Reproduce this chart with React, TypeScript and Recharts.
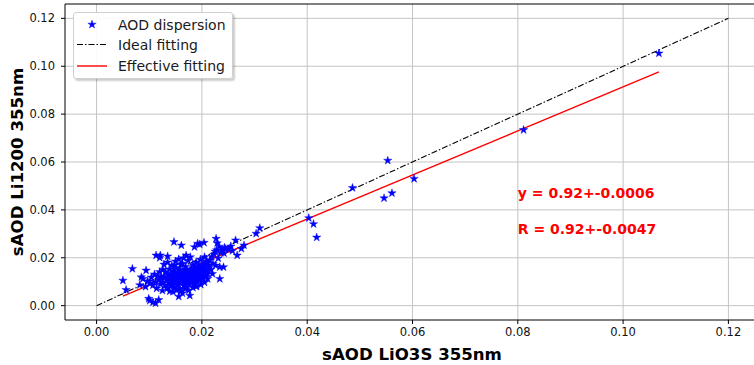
import React from 'react';
import { ScatterChart, Scatter, XAxis, YAxis, CartesianGrid, ReferenceLine, ReferenceDot } from 'recharts';

// sAOD pairs: [LiO3S 355nm, Li1200 355nm]
const dispersion: [number, number][] = [
  // high values
  [0.1068, 0.1054], [0.0811, 0.0734], [0.0603, 0.053], [0.0553, 0.0606], [0.0561, 0.047],
  [0.0546, 0.0449], [0.0486, 0.0492], [0.0403, 0.0366], [0.0412, 0.0341], [0.0418, 0.0285],
  [0.031, 0.0324], [0.0303, 0.0301], [0.028, 0.0252], [0.0275, 0.0238], [0.0267, 0.021],
  [0.0264, 0.0273], [0.0243, 0.0242], [0.0229, 0.0261], [0.0227, 0.028], [0.0204, 0.0263],
  [0.0192, 0.0259], [0.0196, 0.0256], [0.0186, 0.0245], [0.0161, 0.0252], [0.0147, 0.0266],
  [0.012, 0.02], [0.0113, 0.021], [0.0121, 0.021], [0.0135, 0.0206], [0.017, 0.021], [0.0205, 0.0203],
  [0.0068, 0.0154], [0.005, 0.0105], [0.0056, 0.0066], [0.0088, 0.0112], [0.0085, 0.0119], [0.0094, 0.0147],
  [0.0099, 0.0029], [0.0112, 0.001], [0.0118, 0.0024], [0.0101, 0.0021], [0.0107, 0.0014],
  [0.0156, 0.0038], [0.0177, 0.0042], [0.017, 0.0077], [0.0189, 0.008],
  [0.0226, 0.0168], [0.0234, 0.0161], [0.022, 0.0133], [0.0211, 0.0112], [0.0234, 0.0112],
  [0.0196, 0.0105], [0.0241, 0.0161],
  // main cluster
  [0.0125, 0.0098], [0.0128, 0.0121], [0.013, 0.0085], [0.0131, 0.014], [0.0133, 0.0108],
  [0.0134, 0.0072], [0.0136, 0.0128], [0.0137, 0.0095], [0.0138, 0.0152], [0.0139, 0.0113],
  [0.014, 0.0081], [0.0141, 0.0134], [0.0142, 0.0102], [0.0143, 0.0167], [0.0144, 0.009],
  [0.0145, 0.012], [0.0146, 0.0145], [0.0147, 0.0076], [0.0148, 0.0108], [0.0149, 0.013],
  [0.015, 0.0098], [0.0151, 0.0158], [0.0152, 0.0115], [0.0153, 0.0085], [0.0154, 0.0139],
  [0.0155, 0.0104], [0.0156, 0.0124], [0.0157, 0.007], [0.0158, 0.015], [0.0159, 0.0111],
  [0.016, 0.0093], [0.0161, 0.0135], [0.0162, 0.0118], [0.0163, 0.0176], [0.0164, 0.01],
  [0.0165, 0.0128], [0.0166, 0.0084], [0.0167, 0.0145], [0.0168, 0.0109], [0.0169, 0.0162],
  [0.017, 0.0122], [0.0171, 0.0095], [0.0172, 0.0138], [0.0173, 0.0113], [0.0174, 0.0188],
  [0.0175, 0.0104], [0.0176, 0.0131], [0.0177, 0.0089], [0.0178, 0.0152], [0.0179, 0.0119],
  [0.018, 0.0098], [0.0181, 0.0142], [0.0182, 0.0126], [0.0183, 0.017], [0.0184, 0.0108],
  [0.0185, 0.0134], [0.0186, 0.0093], [0.0187, 0.0158], [0.0188, 0.0116], [0.0189, 0.0181],
  [0.019, 0.0127], [0.0191, 0.0101], [0.0192, 0.0146], [0.0193, 0.012], [0.0194, 0.0165],
  [0.0195, 0.0111], [0.0196, 0.0136], [0.0197, 0.0192], [0.0198, 0.0123], [0.0199, 0.0152],
  [0.02, 0.0114], [0.0201, 0.014], [0.0202, 0.0175], [0.0203, 0.0128], [0.0205, 0.0157],
  [0.0206, 0.0119], [0.0208, 0.0144], [0.0209, 0.0186], [0.0211, 0.0133], [0.0213, 0.0168],
  [0.0215, 0.019], [0.0217, 0.015], [0.0219, 0.0205], [0.0221, 0.0176], [0.0223, 0.0214],
  [0.0225, 0.0226], [0.0228, 0.0232], [0.0231, 0.0198], [0.0233, 0.0247], [0.0236, 0.0221],
  [0.0238, 0.023], [0.0242, 0.0219], [0.0245, 0.0236], [0.025, 0.0235], [0.0255, 0.0248], [0.0258, 0.0229],
  // dense core
  [0.0146, 0.0112], [0.0151, 0.0127], [0.0155, 0.0091], [0.0158, 0.0117], [0.0162, 0.0106],
  [0.0164, 0.0139], [0.0167, 0.0124], [0.0169, 0.0098], [0.0171, 0.0151], [0.0174, 0.0126],
  [0.0176, 0.0112], [0.0179, 0.0136], [0.0181, 0.0103], [0.0183, 0.0121], [0.0186, 0.0147],
  [0.0188, 0.0131], [0.0191, 0.0117], [0.0193, 0.0139], [0.0196, 0.0161], [0.0199, 0.0129],
  [0.0202, 0.0148], [0.0204, 0.0166], [0.0207, 0.0137], [0.021, 0.0179], [0.0214, 0.0158],
  // lower left arm
  [0.0082, 0.0086], [0.0093, 0.0079], [0.0097, 0.0102], [0.0101, 0.0094], [0.0104, 0.0118],
  [0.0107, 0.0085], [0.011, 0.0131], [0.0112, 0.0099], [0.0114, 0.0072], [0.0116, 0.0124],
  [0.0118, 0.0108], [0.012, 0.0141], [0.0121, 0.009], [0.0123, 0.0117], [0.0125, 0.0063], [0.0126, 0.015],
  // under the fit line
  [0.0145, 0.0058], [0.0152, 0.0065], [0.016, 0.0061], [0.0168, 0.007], [0.0175, 0.0064],
  [0.0183, 0.0075], [0.019, 0.0082], [0.0163, 0.0052], [0.0139, 0.006], [0.0198, 0.0088], [0.0205, 0.0097],
  // upper part of the cluster
  [0.0128, 0.0172], [0.0135, 0.0181], [0.015, 0.0185], [0.0156, 0.0194], [0.0165, 0.0199],
  [0.0178, 0.0203], [0.016, 0.0172], [0.0148, 0.0168],
];

const xTicks = [0, 0.02, 0.04, 0.06, 0.08, 0.1, 0.12];
const yTicks = [0, 0.02, 0.04, 0.06, 0.08, 0.1, 0.12];
const idealEnd = 0.12;

// linear fit and correlation
const fitSlope = 0.92;
const fitIntercept = -0.0006;
const corrR = 0.92;
const corrErr = -0.0047;

const AXIS_MIN = -0.006;
const AXIS_MAX = 0.126;
const FONT = "'DejaVu Sans', sans-serif";

const points = dispersion.map(([x, y]) => ({ x, y }));
const fitX0 = Math.min(...dispersion.map((d) => d[0]));
const fitX1 = Math.max(...dispersion.map((d) => d[0]));

function starPoints(cx: number, cy: number, R: number) {
  const r = R * 0.382;
  const pts: string[] = [];
  for (let i = 0; i < 10; i++) {
    const a = (-90 + i * 36) * (Math.PI / 180);
    const rad = i % 2 === 0 ? R : r;
    pts.push(`${(cx + rad * Math.cos(a)).toFixed(2)},${(cy + rad * Math.sin(a)).toFixed(2)}`);
  }
  return pts.join(' ');
}

const StarMarker = (props: any) => {
  const { cx, cy } = props;
  if (cx == null || cy == null) return <g />;
  return <polygon points={starPoints(cx, cy, 4.4)} fill="#0000ff" stroke="#0000ff" strokeWidth={0.4} />;
};

const AnnotationText = (text: string) => (props: any) => (
  <text x={props.cx} y={props.cy} fill="#ff0000" fontFamily={FONT} fontWeight="bold" fontSize={14}>
    {text}
  </text>
);

export default function App() {
  return (
    <div style={{ position: 'absolute', left: 0, top: 0, width: 754, height: 365, overflow: 'hidden', background: '#fff' }}>
      <ScatterChart width={780} height={365} margin={{ top: 4, right: 20, bottom: 0, left: 0 }}>
        <CartesianGrid stroke="#c4c4c4" strokeWidth={1} horizontalValues={yTicks} verticalValues={xTicks} />
        <XAxis
          type="number"
          dataKey="x"
          domain={[AXIS_MIN, AXIS_MAX]}
          ticks={xTicks}
          allowDataOverflow
          height={45}
          tickFormatter={(v: number) => v.toFixed(2)}
          tick={{ fontSize: 11.5, fill: '#111', fontFamily: FONT }}
          tickSize={4}
          tickMargin={4}
          tickLine={{ stroke: '#000' }}
          axisLine={{ stroke: '#000' }}
        />
        <YAxis
          type="number"
          dataKey="y"
          domain={[AXIS_MIN, AXIS_MAX]}
          ticks={yTicks}
          allowDataOverflow
          width={65}
          tickFormatter={(v: number) => v.toFixed(2)}
          tick={{ fontSize: 11.5, fill: '#111', fontFamily: FONT }}
          tickSize={4}
          tickMargin={6}
          tickLine={{ stroke: '#000' }}
          axisLine={{ stroke: '#000' }}
        />
        <ReferenceLine y={AXIS_MAX} stroke="#000" strokeWidth={1} />
        <Scatter data={points} shape={StarMarker} isAnimationActive={false} />
        <ReferenceLine
          segment={[{ x: 0, y: 0 }, { x: idealEnd, y: idealEnd }]}
          stroke="#000"
          strokeWidth={1.1}
          strokeDasharray="6 2 1.5 2"
        />
        <ReferenceLine
          segment={[
            { x: fitX0, y: fitSlope * fitX0 + fitIntercept },
            { x: fitX1, y: fitSlope * fitX1 + fitIntercept },
          ]}
          stroke="#ff0000"
          strokeWidth={1.4}
        />
        <ReferenceDot x={0.08} y={0.045} shape={AnnotationText(`y = ${fitSlope.toFixed(2)}+${fitIntercept}`)} />
        <ReferenceDot x={0.08} y={0.03} shape={AnnotationText(`R = ${corrR.toFixed(2)}+${corrErr}`)} />
      </ScatterChart>

      {/* axis titles */}
      <svg width={754} height={365} style={{ position: 'absolute', left: 0, top: 0, pointerEvents: 'none' }}>
        <text x={412} y={360} textAnchor="middle" fontFamily={FONT} fontWeight="bold" fontSize={16.6} fill="#000">
          sAOD LiO3S 355nm
        </text>
        <text
          x={23}
          y={162}
          textAnchor="middle"
          transform="rotate(-90 23 162)"
          fontFamily={FONT}
          fontWeight="bold"
          fontSize={16.6}
          fill="#000"
        >
          sAOD Li1200 355nm
        </text>
      </svg>

      {/* legend */}
      <div
        style={{
          position: 'absolute',
          left: 73,
          top: 12,
          width: 160,
          height: 67,
          background: 'rgba(255,255,255,0.9)',
          border: '1px solid #d0d0d0',
          borderRadius: 3,
          boxShadow: '2px 2px 2px rgba(0,0,0,0.2)',
          boxSizing: 'border-box',
        }}
      >
        <svg width={160} height={67} style={{ position: 'absolute', left: -1, top: -1 }}>
          <polygon points={starPoints(19, 12.5, 4.4)} fill="#0000ff" stroke="#0000ff" strokeWidth={0.4} />
          <line x1={4} x2={34} y1={32.5} y2={32.5} stroke="#000" strokeWidth={1.1} strokeDasharray="6 2 1.5 2" />
          <line x1={4} x2={34} y1={54} y2={54} stroke="#ff0000" strokeWidth={1.4} />
          <g fontFamily={FONT} fontSize={14} fill="#1a1a1a">
            <text x={45} y={17.5}>AOD dispersion</text>
            <text x={45} y={37.5}>Ideal fitting</text>
            <text x={45} y={59}>Effective fitting</text>
          </g>
        </svg>
      </div>
    </div>
  );
}
